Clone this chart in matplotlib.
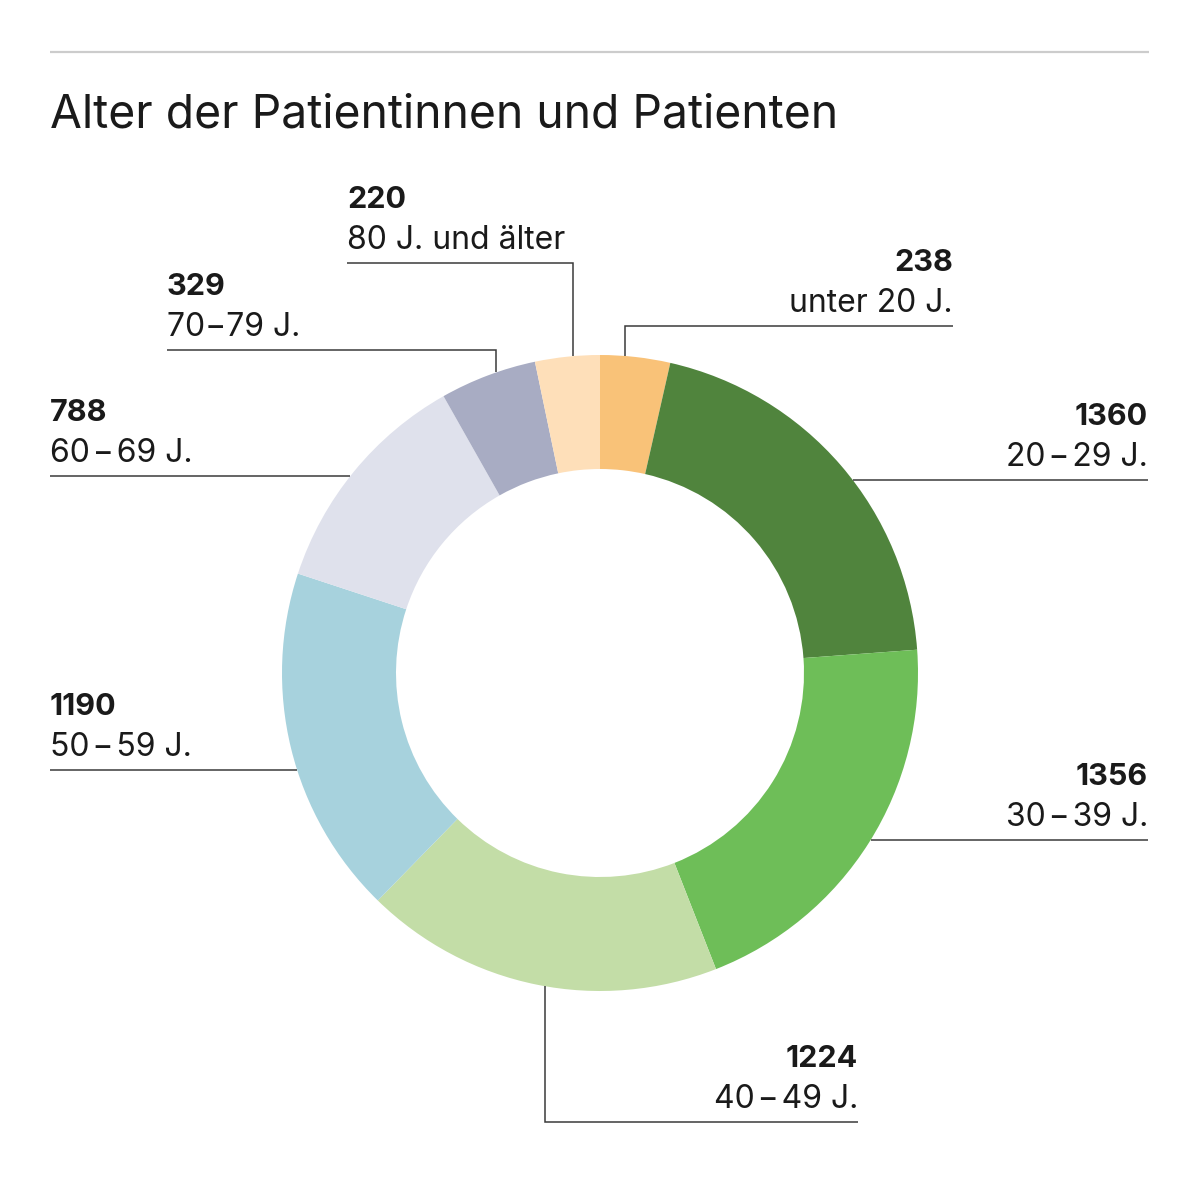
import matplotlib
matplotlib.use("Agg")
import matplotlib.pyplot as plt
import numpy as np

# ---- data ----
values = [238, 1360, 1356, 1224, 1190, 788, 329, 220]
age_labels = ["unter 20 J.", "20\u200a\u2212\u200a29 J.", "30\u200a\u2212\u200a39 J.", "40\u200a\u2212\u200a49 J.",
              "50\u200a\u2212\u200a59 J.", "60\u200a\u2212\u200a69 J.", "70\u221279 J.", "80 J. und älter"]
colors = ["#F9C278", "#50843D", "#6EBE58", "#C3DDA7", "#A7D2DD", "#DFE1EC", "#A8ACC3", "#FEDFB9"]
title = "Alter der Patientinnen und Patienten"

# ---- layout (pixel coordinates, y from top) ----
W, H = 1200, 1199
CX, CY, R, RW = 600, 673, 318, 114
label_x = [953, 1148, 1148, 858, 50, 50, 167, 347]
label_ha = ["right", "right", "right", "right", "left", "left", "left", "left"]
line_y = [326, 480, 840, 1122, 770, 476, 350, 263]
elbow_x = [625, None, None, 545, None, None, 496, 573]

plt.rcParams['font.family'] = ['Inter', 'DejaVu Sans']
fig = plt.figure(figsize=(W / 100, H / 100), dpi=100)
ax = fig.add_axes([0, 0, 1, 1])

def Y(y):
    return H - y

ax.pie(values, colors=colors, startangle=90, counterclock=False, radius=R,
       center=(CX, Y(CY)), wedgeprops=dict(width=RW, edgecolor='none', linewidth=0),
       frame=True)
ax.set_xlim(0, W)
ax.set_ylim(0, H)
ax.set_aspect('equal')
ax.axis('off')

# top rule
ax.plot([50, 1149], [Y(52), Y(52)], color="#CCCCCC", lw=1.6, solid_capstyle='butt')
# title
ax.text(50, Y(127), title, fontsize=33.3, color="#1a1a1a", ha='left', va='baseline')

line_kw = dict(color="#3a3a3a", lw=1.1, solid_capstyle='butt', solid_joinstyle='miter')
for v, lab, lx, ha, ly, ex in zip(values, age_labels, label_x, label_ha, line_y, elbow_x):
    ax.text(lx, Y(ly - 55), f"{v}", fontsize=22, fontweight='bold', color="#1a1a1a",
            ha=ha, va='baseline')
    ax.text(lx, Y(ly - 14), lab, fontsize=23, color="#1a1a1a", ha=ha, va='baseline')
    if ex is not None:
        dy = np.sqrt(R ** 2 - (ex - CX) ** 2)
        ring_y = CY - dy if ly < CY else CY + dy
        ax.plot([lx, ex, ex], [Y(ly), Y(ly), Y(ring_y)], **line_kw)
    else:
        dx = np.sqrt(R ** 2 - (ly - CY) ** 2)
        ring_x = CX + dx if ha == 'right' else CX - dx
        ax.plot([lx, ring_x], [Y(ly), Y(ly)], **line_kw)

fig.savefig("out.png", dpi=100, facecolor="white")
